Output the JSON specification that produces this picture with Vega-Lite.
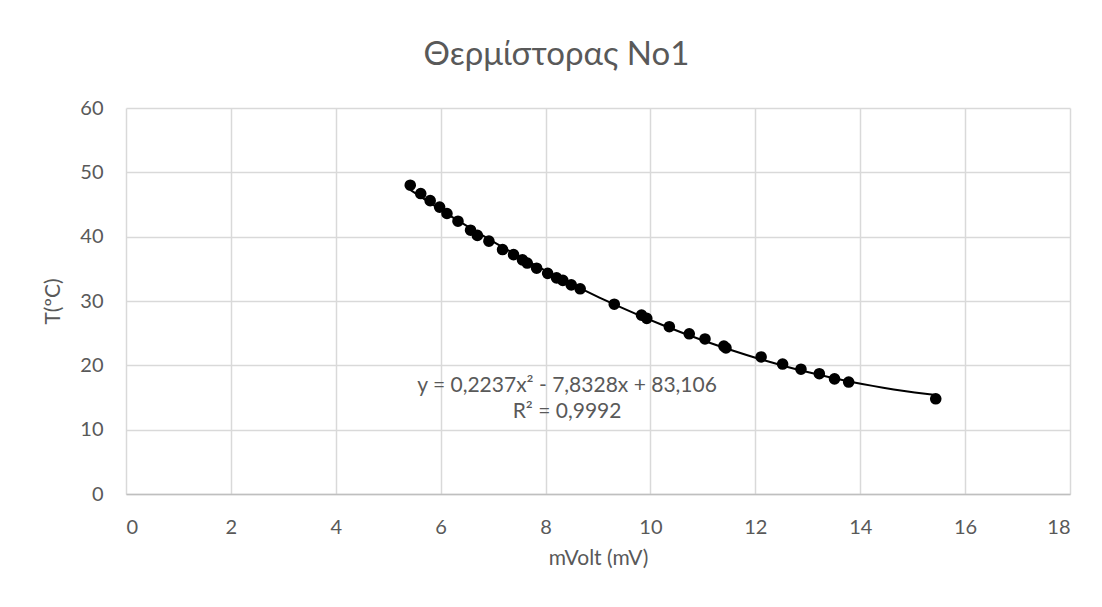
{
  "$schema": "https://vega.github.io/schema/vega-lite/v6.json",
  "autosize": {"type": "none"},
  "padding": {"left": 126, "top": 108, "right": 32, "bottom": 113},
  "width": 944,
  "height": 386,
  "background": "white",
  "title": {
    "text": "Θερμίστορας Νο1",
    "font": "Lato",
    "fontSize": 33,
    "fontWeight": "normal",
    "color": "#595959",
    "anchor": "middle",
    "frame": "bounds",
    "offset": 26
  },
  "config": {
    "view": {"stroke": null},
    "axis": {
      "labelFont": "Lato",
      "titleFont": "Lato",
      "labelFontSize": 20,
      "titleFontSize": 21,
      "labelColor": "#595959",
      "titleColor": "#595959",
      "titleFontWeight": "normal",
      "gridColor": "#d9d9d9",
      "gridWidth": 1.5,
      "ticks": false
    }
  },
  "datasets": {
    "points": [
      {"mV": 5.42, "T": 48.0},
      {"mV": 5.62, "T": 46.7},
      {"mV": 5.80, "T": 45.6},
      {"mV": 5.98, "T": 44.6},
      {"mV": 6.12, "T": 43.6},
      {"mV": 6.33, "T": 42.4},
      {"mV": 6.57, "T": 41.0},
      {"mV": 6.70, "T": 40.2},
      {"mV": 6.92, "T": 39.3},
      {"mV": 7.18, "T": 38.0},
      {"mV": 7.39, "T": 37.2},
      {"mV": 7.56, "T": 36.4},
      {"mV": 7.65, "T": 35.9},
      {"mV": 7.83, "T": 35.1},
      {"mV": 8.04, "T": 34.3},
      {"mV": 8.21, "T": 33.6},
      {"mV": 8.33, "T": 33.2},
      {"mV": 8.49, "T": 32.5},
      {"mV": 8.66, "T": 31.9},
      {"mV": 9.31, "T": 29.5},
      {"mV": 9.83, "T": 27.8},
      {"mV": 9.93, "T": 27.3},
      {"mV": 10.36, "T": 26.0},
      {"mV": 10.74, "T": 24.9},
      {"mV": 11.04, "T": 24.1},
      {"mV": 11.40, "T": 23.0},
      {"mV": 11.44, "T": 22.7},
      {"mV": 12.11, "T": 21.3},
      {"mV": 12.52, "T": 20.2},
      {"mV": 12.87, "T": 19.4},
      {"mV": 13.22, "T": 18.7},
      {"mV": 13.51, "T": 17.9},
      {"mV": 13.78, "T": 17.4},
      {"mV": 15.44, "T": 14.8}
    ],
    "labels": [
      {"lx": 8.41, "ly": 16.8, "label": "y = 0,2237x² - 7,8328x + 83,106"},
      {"lx": 8.41, "ly": 12.75, "label": "R² = 0,9992"}
    ]
  },
  "layer": [
    {
      "data": {"name": "points"},
      "transform": [{"regression": "T", "on": "mV", "method": "poly", "order": 2}],
      "mark": {"type": "line", "color": "black", "strokeWidth": 2},
      "encoding": {
        "x": {
          "field": "mV",
          "type": "quantitative",
          "scale": {"domain": [0, 18], "nice": false},
          "axis": {
            "title": "mVolt (mV)",
            "values": [0, 2, 4, 6, 8, 10, 12, 14, 16, 18],
            "domainColor": "#bfbfbf",
            "domainWidth": 1.5,
            "labelPadding": 23,
            "titlePadding": 10
          }
        },
        "y": {
          "field": "T",
          "type": "quantitative",
          "scale": {"domain": [0, 60], "nice": false},
          "axis": {
            "title": "T(ºC)",
            "values": [0, 10, 20, 30, 40, 50, 60],
            "domain": false,
            "labelPadding": 23,
            "titlePadding": 16
          }
        }
      }
    },
    {
      "data": {"name": "points"},
      "mark": {"type": "circle", "color": "black", "opacity": 1, "size": 135},
      "encoding": {
        "x": {"field": "mV", "type": "quantitative"},
        "y": {"field": "T", "type": "quantitative"}
      }
    },
    {
      "data": {"name": "labels"},
      "mark": {"type": "text", "font": "Lato", "fontSize": 21, "color": "#595959", "align": "center", "baseline": "middle"},
      "encoding": {
        "x": {"field": "lx", "type": "quantitative"},
        "y": {"field": "ly", "type": "quantitative"},
        "text": {"field": "label"}
      }
    }
  ]
}
